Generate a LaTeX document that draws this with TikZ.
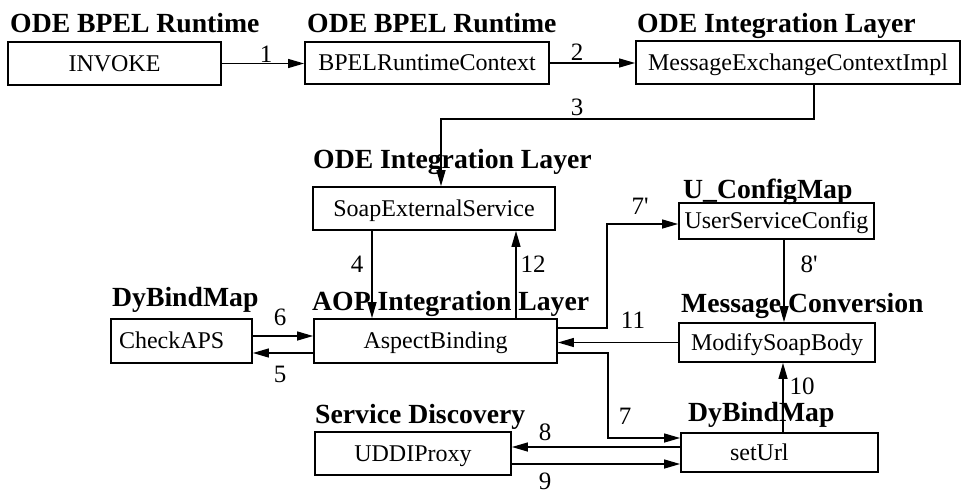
\documentclass[tikz,border=0pt]{standalone}
\usepackage{fontspec}
\setmainfont{Liberation Serif}
\usetikzlibrary{arrows.meta}
\begin{document}
\begin{tikzpicture}[x=1pt,y=-1pt,
 box/.style={draw, line width=1.8pt, inner sep=0pt, font=\fontsize{24}{24}\selectfont, text height=19pt, text depth=4pt},
 ttl/.style={anchor=base west, inner sep=0pt, font=\bfseries\fontsize{27.7}{28}\selectfont},
 num/.style={anchor=base, inner sep=0pt, font=\fontsize{25}{25}\selectfont},
 conn/.style={line width=1.3pt, -{Triangle[length=16pt,width=9pt]}},
]
\useasboundingbox (0,0) rectangle (963,493);

% titles
\node[ttl] (t1) at (10,32) {ODE BPEL Runtime};
\node[ttl] (t2) at (307,32) {ODE BPEL Runtime};
\node[ttl] (t3) at (637,32) {ODE Integration Layer};
\node[ttl] (t4) at (313,168) {ODE Integration Layer};
\node[ttl] (t5) at (112,306) {DyBindMap};
\node[ttl] (t6) at (312,310) {AOP Integration Layer};
\node[ttl] (t7) at (683,198) {U\_ConfigMap};
\node[ttl] (t8) at (681,312) {Message Conversion};
\node[ttl] (t9) at (315,423) {Service Discovery};
\node[ttl] (t10) at (688,421) {DyBindMap};

% boxes
\node[box, minimum width=213pt, minimum height=43pt] (invoke) at (114.5,63.5) {INVOKE};
\node[box, minimum width=244pt, minimum height=42pt] (bpel) at (427,63) {BPELRuntimeContext};
\node[box, minimum width=324pt, minimum height=43pt] (mec) at (798,62.5) {MessageExchangeContextImpl};
\node[box, minimum width=242pt, minimum height=43pt] (ses) at (434,208.5) {SoapExternalService};
\node[box, minimum width=243pt, minimum height=44pt] (ab) at (435.5,341) {AspectBinding};
\node[box, minimum width=141pt, minimum height=44pt, inner xsep=8pt, text width=125pt, align=left] (check) at (181.5,341) {CheckAPS};
\node[box, minimum width=195pt, minimum height=36pt] (usc) at (776.5,221) {UserServiceConfig};
\node[box, minimum width=196pt, minimum height=39pt] (msb) at (777,342.5) {ModifySoapBody};
\node[box, minimum width=196pt, minimum height=43pt] (uddi) at (413,453.5) {UDDIProxy};
\node[box, minimum width=197pt, minimum height=39pt, inner xsep=49pt, text width=99pt, align=left] (seturl) at (779.5,452.5) {setUrl};

% connectors
\draw[conn] (invoke.east) -- (invoke.east -| bpel.west);
\draw[conn] (bpel.east) -- (bpel.east -| mec.west);
\draw[conn] ([xshift=16pt]mec.south) -- ++(0,34) -| ([xshift=7pt]ses.north);
\draw[conn] ([xshift=-62pt]ses.south) -- ([xshift=-62pt]ses.south |- ab.north);
\draw[conn] ([xshift=80.5pt]ab.north) -- ([xshift=80.5pt]ab.north |- ses.south);
\draw[conn] ([yshift=5pt]check.east) -- ([yshift=5pt]check.east -| ab.west);
\draw[conn] ([yshift=-12pt]ab.west) -- ([yshift=-12pt]ab.west -| check.east);
\draw[conn] ([yshift=13pt]ab.east) -- ++(49,0) |- ([yshift=-3pt]usc.west);
\draw[conn] ([xshift=7.5pt]usc.south) -- ([xshift=7.5pt]usc.south |- msb.north);
\draw[conn] (msb.west) -- (msb.west -| ab.east);
\draw[conn] ([yshift=-12pt]ab.east) -- ++(50,0) |- ([yshift=14.5pt]seturl.west);
\draw[conn] ([yshift=5.5pt]seturl.west) -- ([yshift=5.5pt]seturl.west -| uddi.east);
\draw[conn] ([yshift=-10.5pt]uddi.east) -- ([yshift=-10.5pt]uddi.east -| seturl.west);
\draw[conn] ([xshift=3.5pt]seturl.north) -- ([xshift=3.5pt]seturl.north |- msb.south);

% numbers
\node[num] (n1) at (266,62) {1};
\node[num] (n2) at (577,60) {2};
\node[num] (n3) at (577,115) {3};
\node[num] (n4) at (357,272) {4};
\node[num] (n12) at (533,272) {12};
\node[num] (n6) at (280,325) {6};
\node[num] (n5) at (280,382) {5};
\node[num] (n7p) at (640,214) {7\textquotesingle};
\node[num] (n8p) at (809,272) {8\textquotesingle};
\node[num] (n11) at (633,328) {11};
\node[num] (n10) at (802,394) {10};
\node[num] (n7) at (625,424) {7};
\node[num] (n8) at (545,440) {8};
\node[num] (n9) at (545,489) {9};
\end{tikzpicture}
\end{document}
